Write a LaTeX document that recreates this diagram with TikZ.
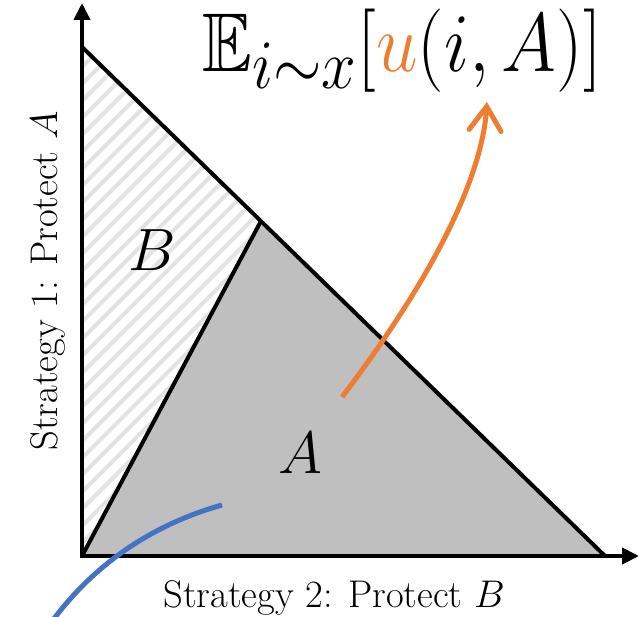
\documentclass[tikz,border=0pt]{standalone}
\usepackage{amssymb}
\usetikzlibrary{arrows.meta}
\definecolor{orng}{HTML}{ED7D31}
\definecolor{blu}{HTML}{4472C4}
\definecolor{regA}{HTML}{BFBFBF}
\definecolor{hatchc}{HTML}{E3E3E3}
\begin{document}
\begin{tikzpicture}[x=1pt,y=-1pt,
  edge/.style={line width=4pt},
  axisline/.style={line width=4pt,{Triangle[length=17pt,width=16pt]}-{Triangle[length=17pt,width=16pt]}},
  biglbl/.style={font=\Huge, scale=2.4, inner sep=0pt},
  axlbl/.style={font=\Huge, scale=1.55, inner sep=0pt},
  hatchline/.style={hatchc, line width=4pt},
  curve/.style={line width=5pt}]
\useasboundingbox (0,0) rectangle (639,617);
\coordinate (O) at (82,556);
\coordinate (T) at (82,47);
\coordinate (R) at (605,556);
\coordinate (M) at (261,221);
\coordinate (Ytip) at (82,3);
\coordinate (Xtip) at (639,556);
% region A
\fill[regA] (O) -- (M) -- (R) -- cycle;
% region B hatched
\begin{scope}
  \clip (O) -- (T) -- (M) -- cycle;
  \foreach \k in {0,...,40} \draw[hatchline] (0,{30+\k*17}) -- ++(700,-700);
\end{scope}
% triangle edges
\draw[edge] (T) -- (R);
\draw[edge] (O) -- (M);
% axes
\draw[axisline, line join=miter] (Ytip) -- (O) -- (Xtip);
% labels
\node[biglbl] (B) at (152,250) {$B$};
\node[biglbl] (A) at (300,453) {$A$};
\node[axlbl, anchor=base] (xlab) at (334,607) {Strategy 2: Protect $B$};
\node[axlbl, anchor=base, rotate=90] (ylab) at (57,281) {Strategy 1: Protect $A$};
\node[anchor=base west, inner sep=0pt, font=\Huge, xscale=3.0, yscale=3.35] (title) at (202,72)
  {$\mathbb{E}_{i\sim x}[\textcolor{orng}{u}(i,A)]$};
% curves
\coordinate (os) at (342,397);
\coordinate (oe) at (487,102);
\draw[orng, curve, -{Straight Barb[length=24pt,width=32pt,line cap=round]}] (os) .. controls (434,276) and (482,177) .. (oe);
\coordinate (bs) at (50,624);
\coordinate (be) at (222,505);
\draw[blu, curve] (bs) .. controls (93,565) and (151,525) .. (be);
\end{tikzpicture}
\end{document}
